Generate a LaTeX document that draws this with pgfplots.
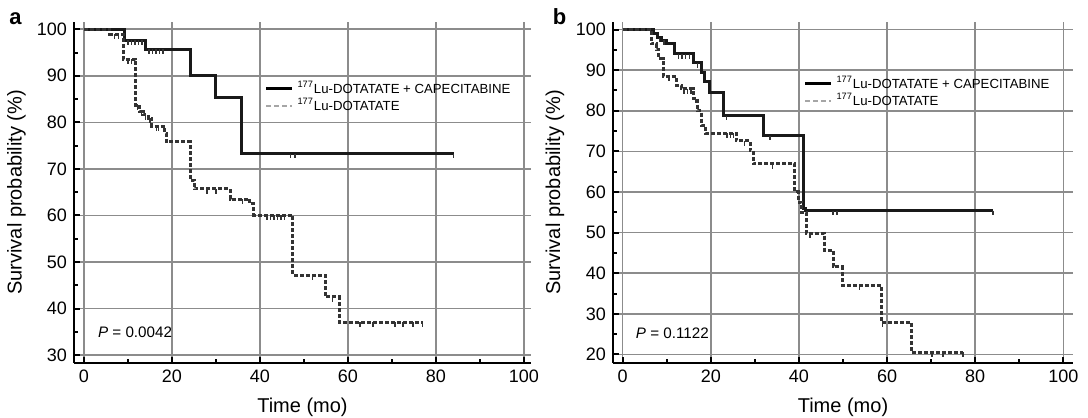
\documentclass[border=0pt]{standalone}
\usepackage{fontspec}
\setmainfont{Liberation Sans}
\usepackage{pgfplots}
\pgfplotsset{compat=1.18}

\pgfplotsset{
  km/.style={
    scale only axis,
    axis x line=bottom, axis y line=left,
    axis line style={-, line width=1.4pt},
    tick align=inside,
    major tick length=3pt, minor tick length=1.8pt,
    every tick/.style={black, line width=1pt},
    minor x tick num=1, minor y tick num=1,
    xtick={0,20,...,100},
    grid=major,
    major grid style={black!45, line width=0.8pt},
    tick label style={font=\fontsize{9}{10}\selectfont},
    /pgf/number format/assume math mode=true,
    label style={font=\fontsize{8.8}{10}\selectfont},
    xlabel={Time (mo)},
    ylabel={Survival probability (\%)},
    every axis x label/.style={at={(axis description cs:0.5,-0.13)}, anchor=center},
    every axis y label/.style={at={(axis description cs:-0.126,0.5)}, anchor=center, rotate=90},
    legend style={draw=none, fill=none, font=\fontsize{6.6}{8}\selectfont,
      row sep=-3.2pt, inner sep=0pt,
      legend cell align=left},
    legend image code/.code={\draw[#1] (0pt,0pt) -- (13pt,0pt);},
  },
  surv/.style={const plot mark left, black!90, line width=1.5pt},
  survd/.style={const plot mark left, black!80, line width=1.5pt, dash pattern=on 2pt off 1pt},
  cens/.style={only marks, mark=|, mark size=1.2pt, black!80, mark options={line width=0.7pt, yshift=-1.2pt}},
}

\begin{document}
\begin{tikzpicture}
\useasboundingbox (0,0) rectangle (544pt,209pt);

% ---- panel a ----
\begin{axis}[km,
  at={(37pt,27.5pt)}, anchor=south west,
  width=228.5pt, height=170.6pt,
  xmin=-2.27, xmax=101.6, ymin=28.3, ymax=101.6,
  ytick={30,40,...,100},
  legend style={at={(axis cs:41,89.8)}, anchor=north west},
]
\addlegendimage{black, line width=1.4pt}
\addlegendentry{\textsuperscript{177}Lu-DOTATATE + CAPECITABINE}
\addlegendimage{black!35, line width=1pt, dash pattern=on 2.5pt off 1.5pt}
\addlegendentry{\textsuperscript{177}Lu-DOTATATE}

\addplot[surv, forget plot] coordinates {
  (0,100) (9.1,97.6) (13.9,95.7) (24.1,90.1) (30,85.4) (35.9,73.3) (84,73.3)
};
\addplot[survd, forget plot] coordinates {
  (0,100) (5.9,98.9) (8.9,93.6) (11.8,83.7) (12.7,82.3) (13.5,81.6) (14.6,80.9)
  (15.4,79.1) (18.4,77.6) (18.8,75.8) (24.1,67.6) (25.1,65.7) (33.2,63.5)
  (37.7,62.5) (38.6,60.0) (47.5,47.2) (54.8,42.5) (58.0,37.1) (77,37.1)
};
\addplot[cens, forget plot] coordinates {
  (10,97.6) (10.8,97.6) (11.6,97.6) (12.4,97.6) (13.2,97.6)
  (14.8,95.7) (15.6,95.7) (16.4,95.7) (17.2,95.7) (18,95.7)
  (47,73.3) (48,73.3) (84,73.3)
};
\addplot[cens, forget plot] coordinates {
  (7,98.9) (7.8,98.9) (10,93.6) (10.8,93.6)
  (12.2,83.7) (13.1,82.3) (14,81.6) (15,80.9) (16.5,79.1) (17,79.1)
  (28,65.7) (30,65.7) (36,63.5)
  (41.6,60) (42.4,60) (43.2,60) (44,60) (44.8,60) (45.6,60)
  (52,47.2) (56.5,42.5)
  (62.7,37.1) (65.7,37.1) (70.7,37.1) (72.5,37.1) (74.8,37.1) (77,37.1)
};
\node[anchor=west, font=\fontsize{7.6}{9}\selectfont] at (axis cs:1.6,34.9) {\textit{P} = 0.0042};
\end{axis}

% ---- panel b ----
\begin{axis}[km,
  at={(306.5pt,27.5pt)}, anchor=south west,
  width=230pt, height=170.6pt,
  xmin=-2.2, xmax=102.2, ymin=17.9, ymax=101.9,
  ytick={20,30,...,100},
  legend style={at={(axis cs:41,89.6)}, anchor=north west},
]
\addlegendimage{black, line width=1.4pt}
\addlegendentry{\textsuperscript{177}Lu-DOTATATE + CAPECITABINE}
\addlegendimage{black!35, line width=1pt, dash pattern=on 2.5pt off 1.5pt}
\addlegendentry{\textsuperscript{177}Lu-DOTATATE}

\addplot[surv, forget plot] coordinates {
  (0,100) (6.9,99) (8,98) (8.8,97.3) (9.9,96.5) (11.8,94) (16,91.8)
  (17.9,89.5) (18.6,87.1) (19.8,84.5) (22.8,78.8) (32,73.9) (41,56)
  (41.5,55.4) (84,55.4)
};
\addplot[survd, forget plot] coordinates {
  (0,100) (6.5,96.5) (7.7,95) (8.2,92.8) (9.2,88.4) (12.2,86.2) (13.3,85.4)
  (16,83) (17,80) (17.9,76.4) (18.8,74.5) (25.8,72.6) (28.9,70.1)
  (29.6,66.9) (39.1,60) (39.8,57.5) (40.5,55) (41.7,49.8) (45.8,45.7)
  (47.8,41.6) (49.8,37.0) (58.7,27.9) (65.5,20.5) (77.2,20.5)
};
\addplot[cens, forget plot] coordinates {
  (8.3,98) (9.4,97.3) (12.6,94) (13.5,94) (14.3,94) (15.1,94) (17,91.8)
  (23.6,78.8) (33.4,73.9) (47.7,55.4) (48.6,55.4) (84,55.4)
};
\addplot[cens, forget plot] coordinates {
  (10.5,88.4) (13.9,85.4) (14.7,85.4) (15.5,85.4) (16.5,83)
  (23.7,74.5) (24.4,74.5) (25.1,74.5) (27.7,72.6) (34,66.9)
  (42.5,49.8) (53.8,37.0) (59,27.9) (70.2,20.5) (72.7,20.5) (77.2,20.5)
};
\node[anchor=west, font=\fontsize{7.6}{9}\selectfont] at (axis cs:1.4,25.1) {\textit{P} = 0.1122};
\end{axis}

\node[anchor=base, font=\bfseries\fontsize{11}{12}\selectfont] at (7.75pt,196.5pt) {a};
\node[anchor=base, font=\bfseries\fontsize{11}{12}\selectfont] at (279.75pt,196.5pt) {b};
\end{tikzpicture}
\end{document}
